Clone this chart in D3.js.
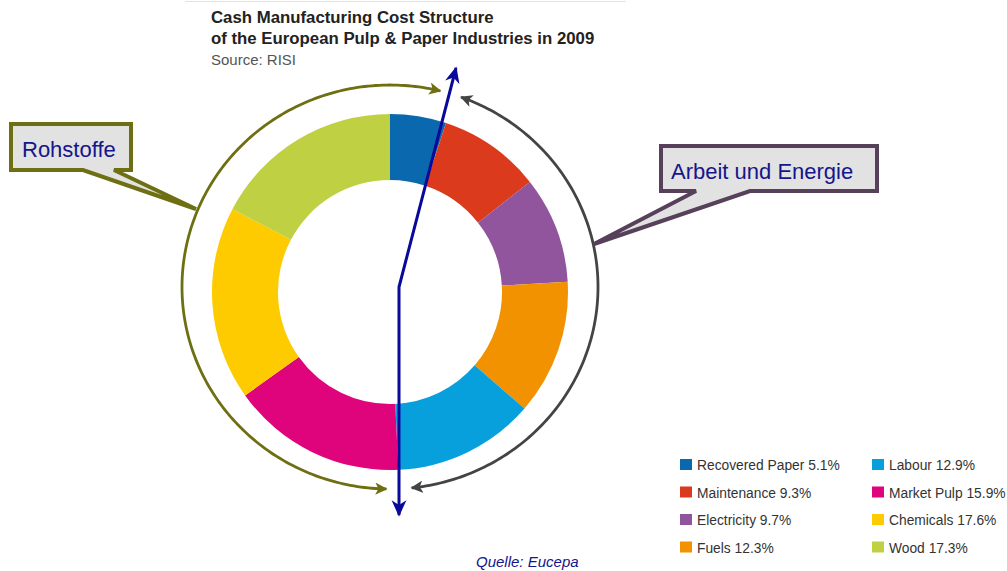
<!DOCTYPE html>
<html>
<head>
<meta charset="utf-8">
<script src="https://cdn.jsdelivr.net/npm/d3@7"></script>
<style>
  body { margin: 0; background: #fff; }
  svg { display: block; font-family: "Liberation Sans", Arial, sans-serif; }
</style>
</head>
<body>
<svg id="chart" width="1007" height="571"></svg>
<script>
// data
var categories = ["Recovered Paper", "Maintenance", "Electricity", "Fuels", "Labour", "Market Pulp", "Chemicals", "Wood"];
var shares = [5.1, 9.3, 9.7, 12.3, 12.9, 15.9, 17.6, 17.3];
var colors = ["#0a68ae", "#dc3a1c", "#90559c", "#f39200", "#07a0dc", "#e0047c", "#fecb00", "#bfd043"];
var titleLines = ["Cash Manufacturing Cost Structure", "of the European Pulp & Paper Industries in 2009"];

const svg = d3.select("#chart");
const cx = 390, cy = 292;
const outerR = 178, innerR = 112;
const rad = Math.PI / 180;

var data = categories.map((c, i) => ({ name: c, value: shares[i], color: colors[i] }));

// title
svg.append("line")
    .attr("x1", 185).attr("x2", 626).attr("y1", 1.5).attr("y2", 1.5)
    .attr("stroke", "#e4e4e4").attr("stroke-width", 1);
svg.selectAll(".title")
    .data(titleLines)
    .enter().append("text")
    .attr("class", "title")
    .attr("x", 211)
    .attr("y", (d, i) => 23 + i * 21)
    .attr("font-size", 16.8)
    .attr("font-weight", "bold")
    .attr("fill", "#222")
    .text(d => d);
svg.append("text")
    .attr("x", 211).attr("y", 65)
    .attr("font-size", 15)
    .attr("fill", "#555")
    .text("Source: RISI");

// markers
var defs = svg.append("defs");
function solidMarker(id, color) {
    defs.append("marker")
        .attr("id", id)
        .attr("viewBox", "0 0 10 10")
        .attr("refX", 9).attr("refY", 5)
        .attr("markerWidth", 4.4).attr("markerHeight", 4.4)
        .attr("orient", "auto-start-reverse")
        .append("path")
        .attr("d", "M0,0 L10,5 L0,10 L2.5,5 Z")
        .attr("fill", color);
}
solidMarker("arrOlive", "#6e6e12");
solidMarker("arrGray", "#444444");
defs.append("marker")
    .attr("id", "arrBlue")
    .attr("viewBox", "0 0 10 10")
    .attr("refX", 9).attr("refY", 5)
    .attr("markerWidth", 5.5).attr("markerHeight", 5.5)
    .attr("orient", "auto-start-reverse")
    .append("path")
    .attr("d", "M0,0.5 L10,5 L0,9.5 L3,5 Z")
    .attr("fill", "#0a0a9a");

// donut
var pie = d3.pie().sort(null).value(d => d.value);
var arc = d3.arc().innerRadius(innerR).outerRadius(outerR);
var g = svg.append("g").attr("transform", "translate(" + cx + "," + cy + ")");
g.selectAll("path")
    .data(pie(data))
    .enter().append("path")
    .attr("d", arc)
    .attr("fill", d => d.data.color);

// bracket arcs around the ring (slightly squashed ellipse, compass angles in degrees)
const ex = 390, ey = 287, erx = 208, ery = 202;
function ringArc(a0, a1) {
    var pts = d3.range(a0, a1 + 0.01, 1).map(a => [ex + erx * Math.sin(a * rad), ey - ery * Math.cos(a * rad)]);
    return d3.line()(pts);
}
svg.append("path")
    .attr("d", ringArc(181, 374))
    .attr("fill", "none")
    .attr("stroke", "#6e6e12")
    .attr("stroke-width", 2.8)
    .attr("marker-start", "url(#arrOlive)")
    .attr("marker-end", "url(#arrOlive)");
svg.append("path")
    .attr("d", ringArc(20, 174))
    .attr("fill", "none")
    .attr("stroke", "#444444")
    .attr("stroke-width", 2.8)
    .attr("marker-start", "url(#arrGray)")
    .attr("marker-end", "url(#arrGray)");

// blue pointer
svg.append("path")
    .attr("d", d3.line()([[399, 515], [399, 287], [456, 68]]))
    .attr("fill", "none")
    .attr("stroke", "#0a0a9a")
    .attr("stroke-width", 3)
    .attr("marker-start", "url(#arrBlue)")
    .attr("marker-end", "url(#arrBlue)");

// callouts
function callout(x0, y0, x1, y1, b0, b1, tip, stroke, label, tx, ty) {
    var pts = [[x0, y0], [x1, y0], [x1, y1], [b1, y1], tip, [b0, y1], [x0, y1]];
    svg.append("path")
        .attr("d", d3.line()(pts) + "Z")
        .attr("fill", "#e2e2e2")
        .attr("stroke", stroke)
        .attr("stroke-width", 4)
        .attr("stroke-linejoin", "miter");
    svg.append("text")
        .attr("x", tx).attr("y", ty)
        .attr("font-size", 22)
        .attr("fill", "#15158c")
        .text(label);
}
callout(11, 124, 131, 170, 83, 114, [196, 209], "#6e6e12", "Rohstoffe", 22, 157);
callout(661, 146, 877, 191, 696, 750, [594, 244], "#56405a", "Arbeit und Energie", 671, 179);

// legend
var legend = svg.append("g");
var items = legend.selectAll("g")
    .data(data)
    .enter().append("g")
    .attr("transform", (d, i) => "translate(" + (i < 4 ? 680 : 872) + "," + (459 + (i % 4) * 27.5) + ")");
items.append("rect")
    .attr("width", 12).attr("height", 11)
    .attr("fill", d => d.color);
items.append("text")
    .attr("x", 17).attr("y", 11)
    .attr("font-size", 13.8)
    .attr("fill", "#333")
    .text(d => d.name + " " + d.value + "%");

// source note
svg.append("text")
    .attr("x", 476).attr("y", 567)
    .attr("font-size", 15)
    .attr("font-style", "italic")
    .attr("fill", "#15158c")
    .text("Quelle: Eucepa");
</script>
</body>
</html>
